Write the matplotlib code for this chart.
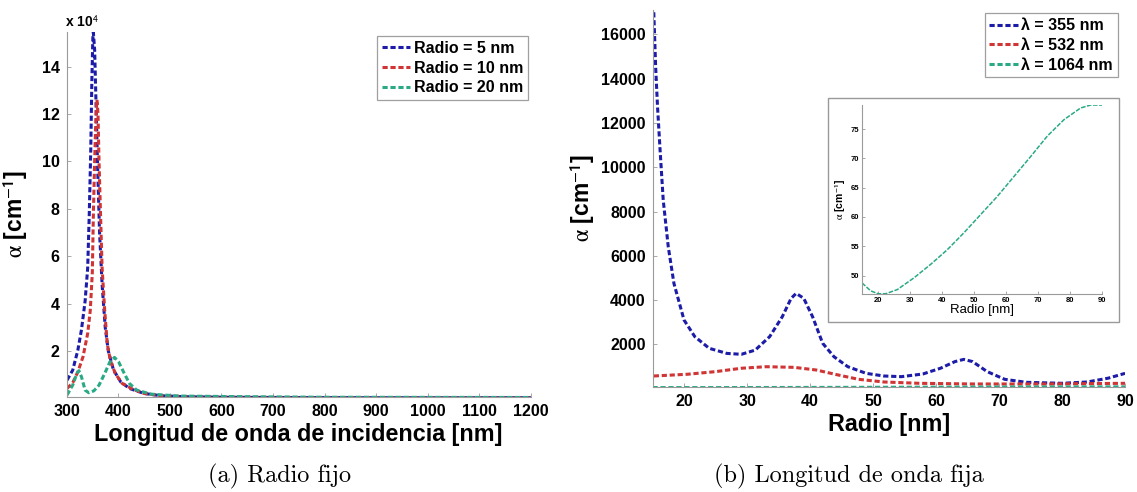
import numpy as np
import matplotlib
matplotlib.use('Agg')
import matplotlib.pyplot as plt
from matplotlib.patches import Rectangle

plt.rcParams['font.family'] = 'Liberation Sans'
plt.rcParams['mathtext.fontset'] = 'stix'

# (a) fixed radius: alpha in units of 1e4 cm^-1 vs wavelength [nm]
wl_r5 = [301, 312, 322, 329, 336, 341, 344, 347, 349, 351, 352, 354.5, 357, 360, 364, 369, 375, 381,
         391, 405, 422, 450, 484, 532, 600, 700, 800, 900, 1000, 1100, 1200]
a_r5 = [0.77, 1.19, 2.04, 2.9, 4.1, 5.5, 7.7, 10.5, 13.3, 15.2, 15.45, 14.7, 12.6, 10.0, 7.0, 4.8, 3.0, 2.0,
        1.2, 0.7, 0.42, 0.21, 0.11, 0.07, 0.05, 0.04, 0.035, 0.03, 0.03, 0.03, 0.03]

wl_r10 = [301, 312, 322, 332, 341, 346, 350, 352, 354.5, 357, 359, 361, 363, 366, 369, 374, 379, 385,
          394.5, 408, 429, 450, 484, 532, 600, 700, 800, 900, 1000, 1100, 1200]
a_r10 = [0.42, 0.66, 1.12, 1.76, 2.74, 3.7, 5.3, 7.7, 10.0, 11.9, 12.6, 12.0, 10.0, 7.7, 5.5, 3.7, 2.3, 1.6,
         1.05, 0.63, 0.38, 0.21, 0.11, 0.07, 0.05, 0.04, 0.035, 0.03, 0.03, 0.03, 0.03]

wl_r20 = [301, 312, 320, 324, 329, 336, 343, 353, 363, 374, 384, 393, 401, 412, 422, 436, 464, 519,
          657, 800, 1000, 1200]
a_r20 = [0.14, 0.56, 1.05, 1.17, 0.91, 0.35, 0.24, 0.32, 0.56, 1.05, 1.54, 1.73, 1.54, 1.05, 0.63, 0.35,
         0.18, 0.1, 0.07, 0.05, 0.045, 0.04]

# (b) fixed wavelength: alpha [cm^-1] vs radius [nm]
r_355 = [15.2, 15.5, 15.8, 16.2, 16.7, 17.5, 18.4, 20, 21.7, 24, 26.8, 29.1, 31.3, 33.6, 35.6, 37, 37.8,
         39, 40.4, 42, 43.8, 46, 48.9, 51.7, 54.5, 57.9, 60.7, 63, 64.4, 65.8, 68.1, 70.9, 74.3, 80,
         84, 87.3, 90]
a_355 = [17000, 14500, 12700, 10770, 8510, 6400, 4750, 3100, 2350, 1820, 1590, 1550, 1740, 2350, 3250,
         4080, 4300, 4080, 3250, 2050, 1440, 990, 690, 570, 540, 660, 920, 1220, 1320, 1220, 770, 420,
         285, 240, 300, 470, 690]

r_532 = [15.2, 20.6, 25.1, 29.1, 33, 37.5, 41, 44.4, 47.7, 51.7, 57.3, 65.8, 77.1, 90]
a_532 = [570, 650, 770, 920, 990, 960, 840, 620, 420, 300, 240, 210, 210, 240]

r_1064 = [15, 17.7, 20, 22.4, 26, 31.2, 36.4, 41.6, 46.8, 52, 57.2, 62.4, 67.6, 72.8, 78, 83.2, 86.3, 90]
a_1064 = [48.75, 47.4, 46.9, 46.9, 47.6, 49.6, 51.9, 54.4, 57.3, 60.4, 63.5, 66.9, 70.3, 73.8, 76.6,
          78.6, 79.1, 79.1]

labels_a = ['Radio = 5 nm', 'Radio = 10 nm', 'Radio = 20 nm']
labels_b = ['λ = 355 nm', 'λ = 532 nm', 'λ = 1064 nm']
colors = ['#1c1ca8', '#d03434', '#2aa985']
dash = (0, (1.7, 0.9))
ylab = r'$\mathrm{\alpha}$ [cm$^{\mathbf{\mathsf{-1}}}$]'

fig = plt.figure(figsize=(11.37, 4.92), dpi=100)


def style_axes(ax, size):
    for s in ['top', 'right']:
        ax.spines[s].set_visible(False)
    for s in ['left', 'bottom']:
        ax.spines[s].set_color('#9a9a9a')
        ax.spines[s].set_linewidth(0.8)
    ax.tick_params(direction='in', length=3, width=0.6, color='#9a9a9a', labelsize=size, pad=5)
    for lab in ax.get_xticklabels() + ax.get_yticklabels():
        lab.set_fontweight('bold')


# ---- (a)
ax1 = fig.add_axes([0.0585, 0.1931, 0.4085, 0.7425])
ax1.plot(wl_r5, a_r5, color=colors[0], lw=2.2, ls=dash, label=labels_a[0])
ax1.plot(wl_r10, a_r10, color=colors[1], lw=2.2, ls=dash, label=labels_a[1])
ax1.plot(wl_r20, a_r20, color=colors[2], lw=2.2, ls=dash, label=labels_a[2])
ax1.set_xlim(300, 1200)
ax1.set_ylim(0.06, 15.47)
ax1.set_xticks(np.arange(300, 1201, 100))
ax1.set_yticks(np.arange(2, 15, 2))
style_axes(ax1, 11.5)
ax1.set_xlabel('Longitud de onda de incidencia [nm]', fontsize=16.8, fontweight='bold', labelpad=3)
ax1.set_ylabel(ylab, fontsize=16.5, fontweight='bold', labelpad=8)
fig.text(65 / 1137, 1 - 22 / 492, r'x 10$^{\mathsf{4}}$', fontsize=10, fontweight='bold', va='center')
leg1 = ax1.legend(loc='upper right', bbox_to_anchor=(527.7 / 1137, 1 - 36 / 492),
                  bbox_transform=fig.transFigure, borderaxespad=0, fancybox=False,
                  prop={'size': 11.5, 'weight': 'bold'}, handlelength=1.8, handletextpad=0.2,
                  labelspacing=0.3, borderpad=0.3)
leg1.get_frame().set_edgecolor('#888888')
leg1.get_frame().set_linewidth(0.9)

# ---- (b)
ax2 = fig.add_axes([0.5739, 0.214, 0.4156, 0.7656])
ax2.plot(r_355, a_355, color=colors[0], lw=2.2, ls=dash, label=labels_b[0])
ax2.plot(r_532, a_532, color=colors[1], lw=2.2, ls=dash, label=labels_b[1])
ax2.plot(r_1064, a_1064, color=colors[2], lw=2.2, ls=dash, label=labels_b[2])
ax2.set_xlim(15, 90)
ax2.set_ylim(86, 17100)
ax2.set_xticks(np.arange(20, 91, 10))
ax2.set_yticks(np.arange(2000, 16001, 2000))
style_axes(ax2, 11.5)
ax2.set_xlabel('Radio [nm]', fontsize=16.8, fontweight='bold', labelpad=3)
ax2.set_ylabel(ylab, fontsize=16.5, fontweight='bold', labelpad=3)
leg2 = ax2.legend(loc='upper right', bbox_to_anchor=(1117.7 / 1137, 1 - 13.3 / 492),
                  bbox_transform=fig.transFigure, borderaxespad=0, fancybox=False,
                  prop={'size': 11.5, 'weight': 'bold'}, handlelength=1.8, handletextpad=0.2,
                  labelspacing=0.3, borderpad=0.3)
leg2.get_frame().set_edgecolor('#888888')
leg2.get_frame().set_linewidth(0.9)

# inset frame and inset axes
fig.patches.append(Rectangle((0.7282, 0.3455), 0.2559, 0.4553, transform=fig.transFigure,
                             fill=True, facecolor='white', edgecolor='#999999', lw=1.0, zorder=2))
ax3 = fig.add_axes([0.7581, 0.4018, 0.2115, 0.3847])
ax3.set_zorder(3)
ax3.plot(r_1064, a_1064, color=colors[2], lw=1.1, ls=(0, (3, 1)))
ax3.set_xlim(15, 90)
ax3.set_ylim(46.8, 79.1)
ax3.set_xticks(np.arange(20, 91, 10))
ax3.set_yticks(np.arange(50, 76, 5))
style_axes(ax3, 5.5)
ax3.tick_params(length=2, pad=2)
ax3.set_xlabel('Radio [nm]', fontsize=9.5, labelpad=0)
ax3.set_ylabel(ylab, fontsize=7.5, fontweight='bold', labelpad=2)

# captions
fig.text(279.5 / 1137, 1 - 476.7 / 492, '(a) Radio fijo', fontsize=17.5, family='cmr10',
         ha='center', va='center')
fig.text(848.6 / 1137, 1 - 476.7 / 492, '(b) Longitud de onda fija', fontsize=17.5, family='cmr10',
         ha='center', va='center')

fig.savefig('out.png', dpi=100)
